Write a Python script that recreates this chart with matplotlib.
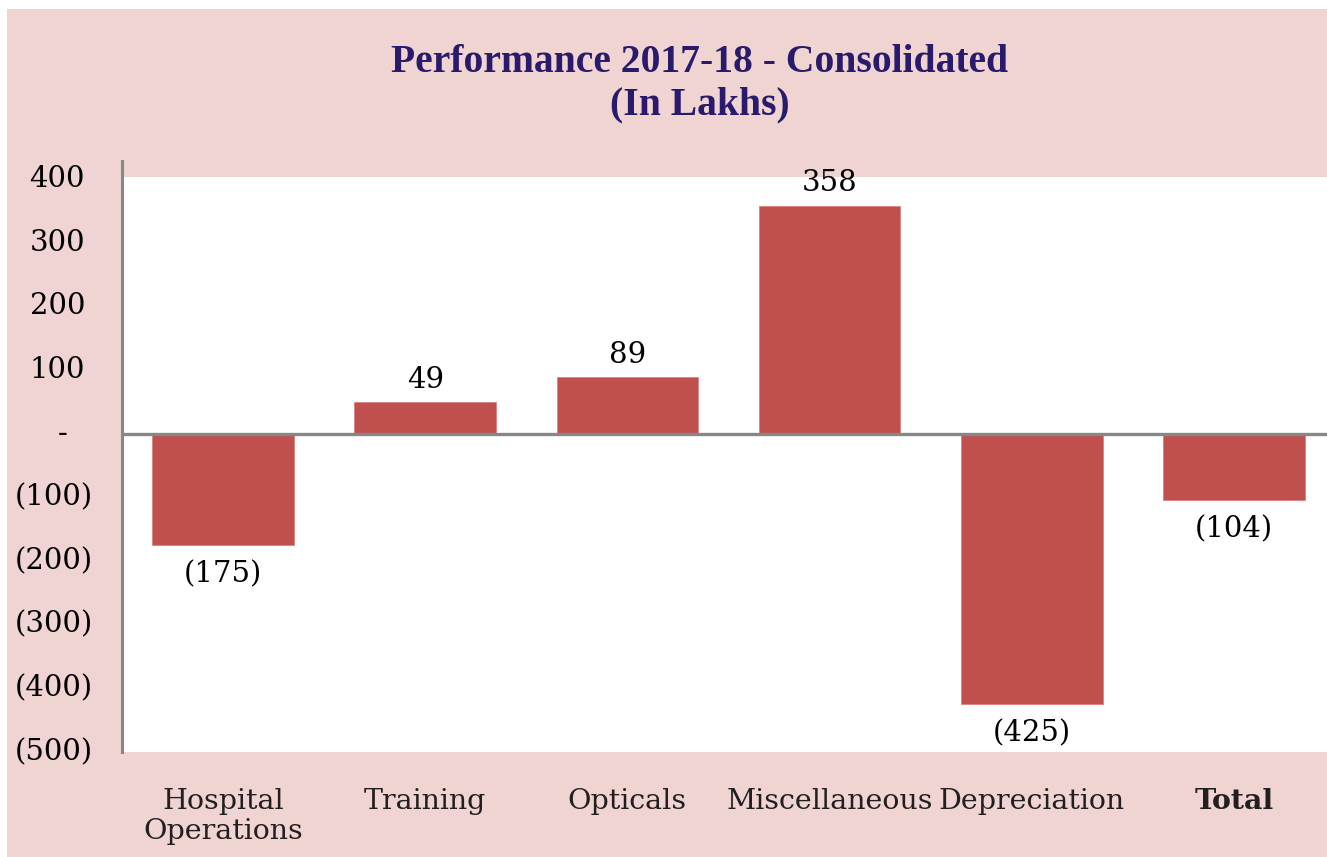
import matplotlib.pyplot as plt
from matplotlib.patches import Rectangle
from matplotlib.transforms import blended_transform_factory

categories = ["Hospital\nOperations", "Training", "Opticals", "Miscellaneous", "Depreciation", "Total"]
values = [-175, 49, 89, 358, -425, -104]
yticks = [400, 300, 200, 100, 0, -100, -200, -300, -400, -500]

W, H = 1327, 857
bar_color = '#c0504d'
pink = '#efd4d2'
axis_gray = '#878787'
title_color = '#2a1a6c'
text_color = '#231f20'


def fmt(v):
    if v == 0:
        return "-"
    if v < 0:
        return "({:d})".format(-v)
    return "{:d}".format(v)


fig = plt.figure(figsize=(W / 100, H / 100), dpi=100)
fig.patch.set_facecolor('white')
fig.patches.append(Rectangle((7 / W, 0), 1 - 7 / W, (H - 9) / H,
                             transform=fig.transFigure, facecolor=pink,
                             edgecolor='none', zorder=-5))

# plot area runs slightly past the right edge of the image
ax = fig.add_axes([122 / W, 105 / H, (1335 - 122) / W, (752 - 177) / H])
ax.set_zorder(1)
ax.set_facecolor('white')

x = list(range(len(categories)))
ax.bar(x, values, width=0.70, color=bar_color, edgecolor='#d9827f',
       linewidth=0.6, zorder=2)
ax.axhline(0, color=axis_gray, linewidth=2.4, zorder=3)
ax.axvline(-0.5, ymin=0, ymax=(752 - 161) / (752 - 177), color=axis_gray,
           linewidth=2.2, clip_on=False, zorder=3)

ax.set_xlim(-0.5, len(categories) - 0.5)
ax.set_ylim(-500, 403)

for s in ax.spines.values():
    s.set_visible(False)

# category labels
ax.set_xticks(x)
ax.set_xticklabels(categories, fontsize=20.5, family='DejaVu Serif',
                   color=text_color, linespacing=1.15)
ax.get_xticklabels()[-1].set_fontweight('bold')
ax.tick_params(axis='x', length=0, pad=26)

# y tick labels, accounting style
ax.set_yticks(yticks)
ax.set_yticklabels([])
ax.tick_params(axis='y', length=0)
trans = blended_transform_factory(fig.transFigure, ax.transData)
for v in yticks:
    if v < 0:
        xpos, ha = 93, 'right'
    elif v > 0:
        xpos, ha = 85, 'right'
    else:
        xpos, ha = 63, 'center'
    ax.text(xpos / W, v, fmt(v), transform=trans, ha=ha, va='center',
            fontsize=21, family='DejaVu Serif', color='black', clip_on=False)

# data labels
for xi, v in zip(x, values):
    off = 16 if v > 0 else -21
    ax.annotate(fmt(v), (xi, v), xytext=(0, off), textcoords='offset points',
                ha='center', va='center', fontsize=21, family='DejaVu Serif',
                color='black', annotation_clip=False, zorder=4)

fig.text(700 / W, 1 - 62 / H, "Performance 2017-18 - Consolidated",
         ha='center', va='center', fontsize=28.5, fontweight='bold',
         family='Liberation Serif', color=title_color)
fig.text(700 / W, 1 - 105 / H, "(In Lakhs)",
         ha='center', va='center', fontsize=28.5, fontweight='bold',
         family='Liberation Serif', color=title_color)

fig.savefig('out.png', dpi=100, facecolor=fig.get_facecolor())
